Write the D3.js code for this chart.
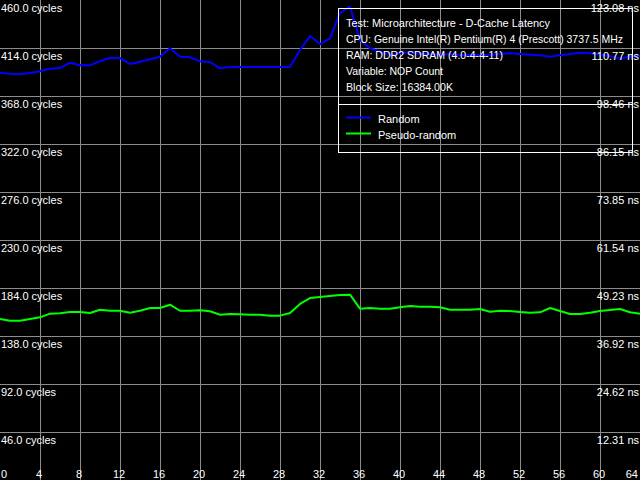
<!DOCTYPE html>
<html>
<head>
<meta charset="utf-8">
<script src="https://cdn.jsdelivr.net/npm/d3@7"></script>
<style>
  html, body { margin: 0; padding: 0; background: #000; }
  svg { display: block; font-family: "Liberation Sans", Arial, sans-serif; font-size: 11px; }
  .grid line { stroke: #8c8c8c; stroke-width: 1; shape-rendering: crispEdges; }
  .lbl { fill: #fff; }
  .series { fill: none; stroke-width: 2; stroke-linejoin: round; }
</style>
</head>
<body>
<svg id="chart" width="640" height="480"></svg>
<script>
// x: NOP count, y: latency in cycles
const nopCount = d3.range(0, 65)
const random = [
  390.3, 389.4, 388.8, 390.0, 391.7, 394.2, 394.8, 399.9, 397.4, 397.4,
  401.5, 404.4, 404.4, 398.7, 400.9, 403.2, 405.7, 413.7, 405.7, 405.1,
  401.3, 400.6, 394.5, 395.8, 395.8, 395.8, 395.8, 395.8, 395.8, 395.8,
  412.1, 425.5, 417.8, 423.3, 447.3, 453.6, 421.7, 413.7, 410.5, 407.3,
  408.9, 410.2, 408.2, 408.2, 407.6, 408.2, 407.0, 407.6, 407.0, 407.6,
  408.2, 408.9, 408.2, 407.6, 407.0, 405.7, 407.0, 408.2, 409.5, 408.9,
  407.6, 406.3, 403.7, 405.7, 406.3
]
const pseudoRandom = [
  154.3, 152.7, 152.7, 154.3, 155.9, 159.4, 159.8, 161.0, 161.0, 160.0,
  163.2, 162.2, 162.2, 160.3, 162.2, 164.8, 164.8, 168.0, 162.2, 162.2,
  162.6, 161.7, 158.4, 159.1, 158.8, 158.4, 158.4, 157.5, 157.5, 160.0,
  168.7, 174.4, 175.4, 176.3, 177.3, 177.6, 164.2, 164.8, 164.2, 164.2,
  165.5, 166.7, 166.1, 166.1, 165.5, 163.2, 163.2, 163.2, 163.9, 161.3,
  162.2, 161.9, 161.0, 160.3, 160.7, 164.8, 161.9, 159.1, 159.1, 160.3,
  161.9, 162.9, 163.9, 160.7, 159.4
]
const xTicks = d3.range(0, 65, 4)
const yTicks = d3.range(46, 461, 46)
const nsLabels = ['12.31', '24.62', '36.92', '49.23', '61.54', '73.85', '86.15', '98.46', '110.77', '123.08']
const infoLines = [
  'Test: Microarchitecture - D-Cache Latency',
  'CPU: Genuine Intel(R) Pentium(R) 4 (Prescott) 3737.5 MHz',
  'RAM: DDR2 SDRAM (4.0-4-4-11)',
  'Variable: NOP Count',
  'Block Size: 16384.00K'
]
const seriesNames = ['Random', 'Pseudo-random']
const seriesColors = ['#0000ff', '#00ff00']

// rendered widths of the info lines in the original font
const infoWidths = [204, 277, 157, 97, 107]

const width = 640
const height = 480
const svg = d3.select('#chart')

const x = d3.scaleLinear().domain([0, 64]).range([0, width])
const y = d3.scaleLinear().domain([0, 460]).range([height, 0])

svg.append('rect').attr('width', width).attr('height', height).attr('fill', '#000')

// grid
const grid = svg.append('g').classed('grid', true)
grid.selectAll('line.v').data(xTicks.filter(d => d > 0 && d < 64)).join('line')
  .attr('x1', d => Math.round(x(d)) + 0.5).attr('x2', d => Math.round(x(d)) + 0.5)
  .attr('y1', 0).attr('y2', height)
grid.selectAll('line.h').data(yTicks.filter(d => d < 460)).join('line')
  .attr('y1', d => Math.round(y(d)) + 0.5).attr('y2', d => Math.round(y(d)) + 0.5)
  .attr('x1', 0).attr('x2', width)

// series
const line = d3.line().x((d, i) => x(nopCount[i])).y(d => y(d))
;[random, pseudoRandom].forEach((s, i) => {
  svg.append('path').datum(s).classed('series', true)
    .attr('stroke', seriesColors[i]).attr('d', line)
})

// axis labels
svg.selectAll('text.ly').data(yTicks).join('text').classed('lbl', true)
  .attr('x', 1).attr('y', d => y(d) + 12)
  .text(d => d3.format('.1f')(d) + ' cycles')
svg.selectAll('text.ry').data(yTicks).join('text').classed('lbl', true)
  .attr('x', 639).attr('y', d => y(d) + 12).attr('text-anchor', 'end')
  .text((d, i) => nsLabels[i] + ' ns')
svg.selectAll('text.bx').data(xTicks).join('text').classed('lbl', true)
  .attr('x', d => d === 0 ? 1 : d === 64 ? 638 : x(d) - 1)
  .attr('y', 478)
  .attr('text-anchor', d => d === 0 ? 'start' : d === 64 ? 'end' : 'middle')
  .text(d => d)

// info / legend box
const box = svg.append('g')
box.append('rect').attr('x', 338.5).attr('y', 8.5).attr('width', 294).attr('height', 144)
  .attr('fill', 'none').attr('stroke', '#fff').attr('shape-rendering', 'crispEdges')
box.append('line').attr('x1', 338).attr('x2', 632).attr('y1', 104.5).attr('y2', 104.5)
  .attr('stroke', '#fff').attr('shape-rendering', 'crispEdges')
box.selectAll('text.info').data(infoLines).join('text').classed('lbl', true)
  .attr('x', 346).attr('y', (d, i) => 27 + i * 16)
  .attr('textLength', (d, i) => infoWidths[i])
  .attr('lengthAdjust', 'spacingAndGlyphs')
  .text(d => d)
const leg = box.selectAll('g.leg').data(seriesNames).join('g')
  .attr('transform', (d, i) => `translate(346, ${117.5 + i * 16})`)
leg.append('line').attr('x1', 0).attr('x2', 25).attr('y1', 0).attr('y2', 0)
  .attr('stroke', (d, i) => seriesColors[i]).attr('stroke-width', 2)
leg.append('text').classed('lbl', true).attr('x', 32).attr('y', 5).text(d => d)
</script>
</body>
</html>
